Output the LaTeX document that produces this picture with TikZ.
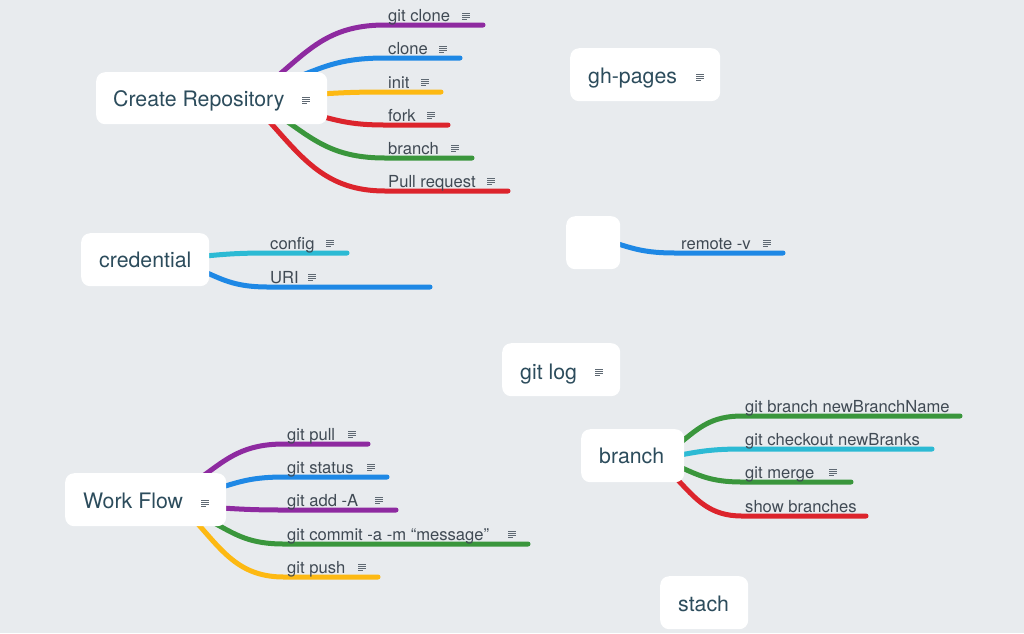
\documentclass[tikz,border=0pt]{standalone}
\usepackage{fontspec}
\setmainfont{TeX Gyre Heros}
\usetikzlibrary{calc}
\definecolor{bgc}{RGB}{232,235,238}
\definecolor{maintc}{RGB}{44,76,92}
\definecolor{subtc}{RGB}{64,74,84}
\definecolor{iconc}{RGB}{95,105,115}
\definecolor{cpurple}{RGB}{142,42,160}
\definecolor{cblue}{RGB}{30,136,229}
\definecolor{cyellow}{RGB}{253,185,19}
\definecolor{cred}{RGB}{220,36,44}
\definecolor{cgreen}{RGB}{58,150,60}
\definecolor{ccyan}{RGB}{44,186,212}
\pgfdeclarelayer{bglayer}
\pgfdeclarelayer{lines}
\pgfsetlayers{bglayer,lines,main}
\tikzset{
  mainbox/.style={fill=white, rounded corners=9pt, anchor=north west, inner sep=0pt},
  maintext/.style={font=\fontsize{21.3}{24}\selectfont, text=maintc, anchor=base west, inner sep=0pt},
  subtext/.style={font=\fontsize{16.6}{20}\selectfont, text=subtc, anchor=base west, inner sep=0pt},
  conn/.style={line width=5pt, line cap=round},
  curvy/.style={to path={let \p1=(\tikztostart), \p2=(\tikztotarget) in
     .. controls ({\x1+0.3*(\x2-\x1)},{\y1+0.55*(\y2-\y1)}) and ({\x1+0.5*(\x2-\x1)},{\y2}) .. (\tikztotarget)}},
  noteicon/.pic={\draw[line width=0.9pt, draw=iconc]
     (-4,-3)--(4,-3) (-4,-1)--(4,-1) (-4,1)--(4,1) (-4,3)--(1,3);}
}
\begin{document}
\begin{tikzpicture}[x=1pt,y=-1pt]
\begin{pgfonlayer}{bglayer}
\fill[bgc] (0,0) rectangle (1024,633);
\end{pgfonlayer}
\useasboundingbox (0,0) rectangle (1024,633);

% ---------- main boxes ----------
\node[mainbox, minimum width=231pt, minimum height=52pt] (cr) at (96,72) {};
\node[maintext] (crt) at (113,106) {Create Repository};
\pic at (306,100) {noteicon};

\node[mainbox, minimum width=150pt, minimum height=53pt] (gh) at (570,48) {};
\node[maintext] (ght) at (588,83) {gh-pages};
\pic at (700,77) {noteicon};

\node[mainbox, minimum width=128pt, minimum height=53pt] (cred) at (81,233) {};
\node[maintext] (credt) at (99,267) {credential};

\node[mainbox, minimum width=54pt, minimum height=53pt] (empty) at (566,216) {};

\node[mainbox, minimum width=118pt, minimum height=53pt] (log) at (502,343) {};
\node[maintext] (logt) at (520,379) {git log};
\pic at (599,372) {noteicon};

\node[mainbox, minimum width=103pt, minimum height=53pt] (br) at (581,429) {};
\node[maintext] (brt) at (599,463) {branch};

\node[mainbox, minimum width=161pt, minimum height=53pt] (wf) at (65,473) {};
\node[maintext] (wft) at (83,508) {Work Flow};
\pic at (205,503) {noteicon};

\node[mainbox, minimum width=88pt, minimum height=53pt] (st) at (660,576) {};
\node[maintext] (stt) at (678,611) {stach};

% ---------- sub topic labels ----------
\node[subtext] (l1) at (388,21) {git clone}; \pic at (466,16) {noteicon};
\node[subtext] (l2) at (388,54) {clone}; \pic at (443,49) {noteicon};
\node[subtext] (l3) at (388,88) {init}; \pic at (425,82) {noteicon};
\node[subtext] (l4) at (388,121) {fork}; \pic at (431,115) {noteicon};
\node[subtext] (l5) at (388,154) {branch}; \pic at (455,148) {noteicon};
\node[subtext] (l6) at (388,187) {Pull request}; \pic at (491,181) {noteicon};

\node[subtext] (c1) at (270,249) {config}; \pic at (330,243) {noteicon};
\node[subtext] (c2) at (270,283) {URI}; \pic at (312,277) {noteicon};

\node[subtext] (r1) at (681,249) {remote -v}; \pic at (767,243) {noteicon};

\node[subtext] (b1) at (745,412) {git branch newBranchName};
\node[subtext] (b2) at (745,445) {git checkout newBranks};
\node[subtext] (b3) at (745,478) {git merge}; \pic at (833,472) {noteicon};
\node[subtext] (b4) at (745,512) {show branches};

\node[subtext] (w1) at (287,440) {git pull}; \pic at (352,434) {noteicon};
\node[subtext] (w2) at (287,473) {git status}; \pic at (371,467) {noteicon};
\node[subtext] (w3) at (287,506) {git add -A}; \pic at (379,500) {noteicon};
\node[subtext] (w4) at (287,540) {git commit -a -m “message”}; \pic at (512,534) {noteicon};
\node[subtext] (w5) at (287,573) {git push}; \pic at (362,567) {noteicon};

% ---------- connector points ----------
\coordinate (crs1) at (280,74);  \coordinate (crk1) at (385,25);  \coordinate (cre1) at (483,25);
\coordinate (crs2) at (300,76);  \coordinate (crk2) at (385,58);  \coordinate (cre2) at (460,58);
\coordinate (crs3) at (320,94);  \coordinate (crk3) at (385,92);  \coordinate (cre3) at (441,92);
\coordinate (crs4) at (320,116); \coordinate (crk4) at (385,125); \coordinate (cre4) at (448,125);
\coordinate (crs5) at (285,120); \coordinate (crk5) at (385,158); \coordinate (cre5) at (472,158);
\coordinate (crs6) at (268,120); \coordinate (crk6) at (385,191); \coordinate (cre6) at (508,191);

\coordinate (cds1) at (205,256); \coordinate (cdk1) at (268,253); \coordinate (cde1) at (347,253);
\coordinate (cds2) at (205,272); \coordinate (cdk2) at (268,287); \coordinate (cde2) at (430,287);

\coordinate (ems1) at (615,243); \coordinate (emk1) at (675,253); \coordinate (eme1) at (783,253);

\coordinate (brs1) at (680,443); \coordinate (brk1) at (742,416); \coordinate (bre1) at (960,416);
\coordinate (brs2) at (680,455); \coordinate (brk2) at (742,449); \coordinate (bre2) at (932,449);
\coordinate (brs3) at (680,467); \coordinate (brk3) at (742,482); \coordinate (bre3) at (851,482);
\coordinate (brs4) at (676,478); \coordinate (brk4) at (742,516); \coordinate (bre4) at (866,516);

\coordinate (wfs1) at (203,476); \coordinate (wfk1) at (284,444); \coordinate (wfe1) at (368,444);
\coordinate (wfs2) at (222,487); \coordinate (wfk2) at (284,477); \coordinate (wfe2) at (387,477);
\coordinate (wfs3) at (222,508); \coordinate (wfk3) at (284,510); \coordinate (wfe3) at (396,510);
\coordinate (wfs4) at (216,524); \coordinate (wfk4) at (284,544); \coordinate (wfe4) at (528,544);
\coordinate (wfs5) at (198,524); \coordinate (wfk5) at (284,577); \coordinate (wfe5) at (378,577);

% ---------- connectors ----------
\begin{pgfonlayer}{lines}
\draw[conn, cpurple] (crs1) to[curvy] (crk1) -- (cre1);
\draw[conn, cblue]   (crs2) to[curvy] (crk2) -- (cre2);
\draw[conn, cyellow] (crs3) to[curvy] (crk3) -- (cre3);
\draw[conn, cred]    (crs4) to[curvy] (crk4) -- (cre4);
\draw[conn, cgreen]  (crs5) to[curvy] (crk5) -- (cre5);
\draw[conn, cred]    (crs6) to[curvy] (crk6) -- (cre6);

\draw[conn, ccyan]   (cds1) to[curvy] (cdk1) -- (cde1);
\draw[conn, cblue]   (cds2) to[curvy] (cdk2) -- (cde2);

\draw[conn, cblue]   (ems1) to[curvy] (emk1) -- (eme1);

\draw[conn, cgreen]  (brs1) to[curvy] (brk1) -- (bre1);
\draw[conn, ccyan]   (brs2) to[curvy] (brk2) -- (bre2);
\draw[conn, cgreen]  (brs3) to[curvy] (brk3) -- (bre3);
\draw[conn, cred]    (brs4) to[curvy] (brk4) -- (bre4);

\draw[conn, cpurple] (wfs1) to[curvy] (wfk1) -- (wfe1);
\draw[conn, cblue]   (wfs2) to[curvy] (wfk2) -- (wfe2);
\draw[conn, cpurple] (wfs3) to[curvy] (wfk3) -- (wfe3);
\draw[conn, cgreen]  (wfs4) to[curvy] (wfk4) -- (wfe4);
\draw[conn, cyellow] (wfs5) to[curvy] (wfk5) -- (wfe5);
\end{pgfonlayer}
\end{tikzpicture}
\end{document}
